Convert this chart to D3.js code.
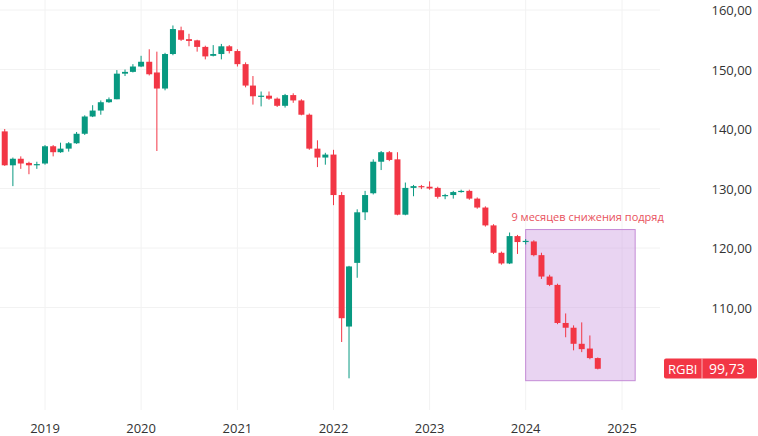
<!DOCTYPE html>
<html><head><meta charset="utf-8">
<script src="https://cdn.jsdelivr.net/npm/d3@7"></script>
<style>body{margin:0;background:#fff}svg{display:block;font-family:"Open Sans",sans-serif}</style>
</head><body><svg id="c" width="758" height="436"></svg>
<script>
// Monthly candles, Jul 2018 .. Sep 2024
const startMonth = [2018, 6];
const opens  = [139.6,133.9,135.0,134.3,133.9,134.2, 137.1,136.1,136.7,137.6,139.2,142.1,143.1,144.5,145.0,149.3,149.6,150.5, 151.3,149.5,146.8,152.6,156.6,155.1,154.9,153.8,152.3,152.6,153.9,153.1, 150.9,147.3,145.4,145.6,145.1,143.9,145.7,144.8,142.4,136.7,135.2,135.7, 128.9,106.8,117.5,126.0,129.2,134.5,136.1,134.9,125.6,130.1,130.4,130.3, 130.1,128.7,128.9,129.4,129.6,128.3,126.8,123.8,119.2,117.4,122.0,121.0, 121.1,118.8,115.2,113.8,107.4,106.6,103.9,103.1,101.5];
const closes = [133.9,135.0,134.2,133.9,134.1,137.1, 136.1,136.7,137.6,139.2,142.1,143.1,144.5,145.0,149.3,149.6,150.5,151.3, 149.2,146.8,152.6,156.8,155.0,154.8,153.8,152.2,152.6,153.9,153.1,150.9, 147.3,145.5,145.6,145.1,143.9,145.7,144.8,142.4,136.7,135.2,135.7,128.9, 108.2,116.9,126.0,128.9,134.5,136.1,134.8,125.6,130.1,130.4,130.2,130.0, 128.6,128.9,129.4,129.6,128.3,126.8,123.8,119.2,117.4,122.0,121.0,121.2, 118.8,115.2,113.8,107.4,106.6,103.9,103.0,101.5,99.7];
const highs  = [140.0,135.2,135.4,134.5,134.5,137.3, 137.3,137.7,137.8,139.5,142.3,144.0,144.8,145.3,149.9,150.0,150.9,152.3, 153.4,153.0,152.8,157.4,157.2,156.0,155.0,154.0,154.1,154.3,154.1,153.4, 151.2,148.9,146.3,146.3,145.3,145.9,146.0,145.0,142.6,138.1,136.0,136.5, 129.4,117.0,126.5,129.6,134.9,136.3,136.3,136.1,131.0,130.6,130.6,131.2, 130.3,129.1,129.6,129.8,129.8,128.5,127.0,124.0,119.4,122.6,122.2,121.5, 121.3,119.2,115.5,114.0,109.0,107.0,107.5,105.3,101.6];
const lows   = [133.8,130.4,133.3,132.4,133.3,134.0, 135.4,136.0,136.2,137.5,139.0,142.0,142.4,144.4,145.0,148.9,149.5,150.4, 149.0,136.3,146.5,152.4,154.8,153.9,153.0,151.7,152.2,151.7,152.7,150.5, 147.0,144.1,143.8,144.9,143.7,143.6,144.4,142.3,136.5,133.6,134.0,127.2, 104.2,98.1,115.0,124.7,129.0,133.1,134.6,125.5,125.5,128.7,129.9,129.8, 128.3,128.2,128.3,129.3,128.1,126.6,123.6,119.0,117.2,117.3,119.0,120.6, 118.6,114.8,113.6,107.2,105.0,102.8,102.5,101.3,99.6];
const yTicks = [110,120,130,140,150,160];
const xYears = [2019,2020,2021,2022,2023,2024,2025];
const lastLabel = "RGBI", lastValue = "99,73";
const note = "9 месяцев снижения подряд";

const W=758,H=436, UP="#089981", DN="#f23645";
const svg=d3.select("#c");
const x=d3.scaleTime().domain([new Date(2019,0,1),new Date(2025,0,1)]).range([45,622]);
const y=d3.scaleLinear().domain([100,160]).range([367,10]);
const data=opens.map((o,i)=>({d:new Date(startMonth[0],startMonth[1]+i+1,1),o,c:closes[i],h:highs[i],l:lows[i]}));

svg.append("g").selectAll("line").data(yTicks).join("line")
 .attr("x1",0).attr("x2",660).attr("y1",d=>y(d)).attr("y2",d=>y(d)).attr("stroke","#f2f2f2");
svg.append("g").selectAll("line").data(xYears).join("line")
 .attr("x1",d=>x(new Date(d,0,1))).attr("x2",d=>x(new Date(d,0,1))).attr("y1",0).attr("y2",410).attr("stroke","#f2f2f2");

const bx0=x(new Date(2024,0,1)), bx1=x(new Date(2025,1,20));
svg.append("rect").attr("x",bx0).attr("width",bx1-bx0)
 .attr("y",y(123.1)).attr("height",y(97.7)-y(123.1))
 .attr("fill","rgba(206,160,226,0.45)").attr("stroke","#c48bd6").attr("stroke-width",1);
svg.append("text").attr("x",x(new Date(2023,10,8))).attr("y",y(124.6)).attr("font-size",11).attr("fill","#e8515c").text(note);

const g=svg.append("g");
g.selectAll("line").data(data).join("line")
 .attr("x1",d=>x(d.d)).attr("x2",d=>x(d.d)).attr("y1",d=>y(d.h)).attr("y2",d=>y(d.l))
 .attr("stroke",d=>d.c>=d.o?UP:DN).attr("stroke-width",1);
g.selectAll("rect").data(data).join("rect")
 .attr("x",d=>x(d.d)-3).attr("width",6)
 .attr("y",d=>y(Math.max(d.o,d.c))).attr("height",d=>Math.max(1,Math.abs(y(d.o)-y(d.c))))
 .attr("fill",d=>d.c>=d.o?UP:DN);

svg.append("g").selectAll("text").data(yTicks).join("text")
 .attr("x",752).attr("y",d=>y(d)+5).attr("text-anchor","end").attr("font-size",13).attr("fill","#333")
 .text(d=>d3.format(".2f")(d).replace(".",","));
svg.append("g").selectAll("text").data(xYears).join("text")
 .attr("x",d=>x(new Date(d,0,1))).attr("y",433).attr("text-anchor","middle").attr("font-size",13).attr("fill","#333").text(d=>d);

const ly=y(99.73);
svg.append("rect").attr("x",664).attr("y",ly-10).attr("width",93).attr("height",20).attr("rx",2).attr("fill",DN);
svg.append("line").attr("x1",702).attr("x2",702).attr("y1",ly-10).attr("y2",ly+10).attr("stroke","#fff").attr("stroke-opacity",0.6);
svg.append("text").attr("x",668).attr("y",ly+5).attr("font-size",13).attr("fill","#fff").text(lastLabel);
svg.append("text").attr("x",709).attr("y",ly+5).attr("font-size",14).attr("fill","#fff").text(lastValue);
</script></body></html>
